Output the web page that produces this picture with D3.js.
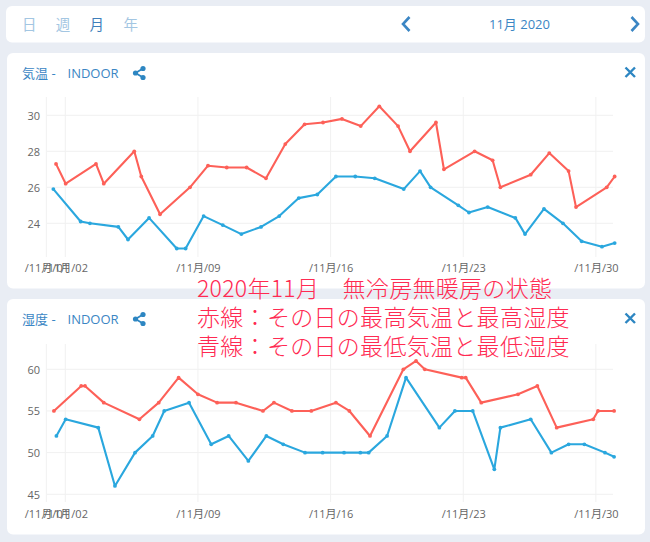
<!DOCTYPE html>
<html>
<head>
<meta charset="utf-8">
<script src="https://cdn.jsdelivr.net/npm/d3@7"></script>
<style>
body { margin: 0; background: #e9edf4; }
svg { display: block; }
</style>
</head>
<body>
<svg id="chart" width="650" height="542"></svg>
<script>
// time of each reading = day of November (with fraction of the day)
var tempHighDay = [1.51, 2.02, 3.62, 4.03, 5.64, 6.01, 7.00, 8.58, 9.53, 10.52,
	11.57, 12.59, 13.61, 14.63, 15.60, 16.60, 17.59, 18.57, 19.56, 20.19,
	21.56, 21.98, 23.60, 24.55, 24.96, 26.56, 27.54, 28.56, 28.95, 30.57, 30.99];
var tempHigh = [27.3, 26.2, 27.3, 26.2, 28.0, 26.6, 24.5, 26.0, 27.2, 27.1,
	27.1, 26.5, 28.4, 29.5, 29.6, 29.8, 29.4, 30.5, 29.4, 28.0,
	29.6, 27.0, 28.0, 27.5, 26.0, 26.7, 27.9, 26.9, 24.9, 26.0, 26.6];

var tempLowDay = [1.37, 2.81, 3.30, 4.80, 5.31, 6.42, 7.88, 8.35, 9.30, 10.31,
	11.29, 12.33, 13.29, 14.32, 15.30, 16.28, 17.30, 18.33, 19.86, 20.72,
	21.28, 22.74, 23.30, 24.29, 25.75, 26.26, 27.26, 28.26, 29.25, 30.32, 30.99];
var tempLow = [25.9, 24.1, 24.0, 23.8, 23.1, 24.3, 22.6, 22.6, 24.4, 23.9,
	23.4, 23.8, 24.4, 25.4, 25.6, 26.6, 26.6, 26.5, 25.9, 26.9,
	26.0, 25.0, 24.6, 24.9, 24.3, 23.4, 24.8, 24.0, 23.0, 22.7, 22.9];

var humHighDay = [1.40, 2.84, 3.04, 4.03, 5.91, 6.93, 7.98, 9.00, 10.01, 11.01,
	12.43, 13.01, 13.96, 14.98, 16.28, 16.99, 18.08, 19.84, 20.51, 20.97,
	22.92, 23.13, 23.95, 25.89, 26.91, 27.93, 29.86, 30.11, 30.96];
var humHigh = [55, 58, 58, 56, 54, 56, 59, 57, 56, 56,
	55, 56, 55, 55, 56, 55, 52, 60, 61, 60,
	59, 59, 56, 57, 58, 53, 54, 55, 55];

var humLowDay = [1.53, 2.02, 3.74, 4.62, 5.68, 6.61, 7.22, 8.53, 9.70, 10.62,
	11.66, 12.61, 13.50, 14.65, 15.58, 16.71, 17.57, 18.01, 18.98, 19.98,
	21.74, 22.56, 23.50, 24.64, 24.96, 26.56, 27.65, 28.56, 29.39, 30.48, 30.96];
var humLow = [52, 54, 53, 46, 50, 52, 55, 56, 51, 52,
	49, 52, 51, 50, 50, 50, 50, 50, 52, 59,
	53, 55, 55, 48, 53, 54, 50, 51, 51, 50, 49.5];

var tickDays = [1, 2, 9, 16, 23, 30];
var tempTicks = [24, 26, 28, 30];
var humTicks = [45, 50, 55, 60];
var periodLabels = ["日", "週", "月", "年"];
var noteLines = ["2020年11月　無冷房無暖房の状態", "赤線：その日の最高気温と最高湿度", "青線：その日の最低気温と最低湿度"];

var RED = "#fd6058";
var BLUE = "#2aa7de";
var UI_BLUE = "#3b86c4";
var FONT = "'Open Sans', 'Noto Sans CJK JP', sans-serif";

function toDate(day) {
	return new Date(new Date(2020, 10, 1).getTime() + (day - 1) * 864e5);
}

var svg = d3.select("#chart");

// cards
var cards = [
	{x: 6, y: 6, w: 639, h: 36.5},
	{x: 7, y: 53, w: 638, h: 235.5},
	{x: 7, y: 299, w: 638, h: 235.5}
];
svg.selectAll("rect.card")
	.data(cards)
	.enter()
	.append("rect")
	.attr("class", "card")
	.attr("x", d => d.x)
	.attr("y", d => d.y)
	.attr("width", d => d.w)
	.attr("height", d => d.h)
	.attr("rx", 6)
	.style("fill", "#fff");

// top toolbar
svg.selectAll("text.period")
	.data(periodLabels)
	.enter()
	.append("text")
	.attr("class", "period")
	.attr("x", (d, i) => 22 + i * 33.8)
	.attr("y", 29.5)
	.text(d => d)
	.style("font-family", FONT)
	.style("font-size", "14.5px")
	.style("fill", (d, i) => i == 2 ? "#3f7fbb" : "#a3c6e2");

svg.append("path")
	.attr("d", "M409.5,17 L403,24 L409.5,31")
	.style("fill", "none").style("stroke", UI_BLUE).style("stroke-width", 2.6);
svg.append("path")
	.attr("d", "M631.5,17 L638,24 L631.5,31")
	.style("fill", "none").style("stroke", UI_BLUE).style("stroke-width", 2.6);
svg.append("text")
	.attr("x", 519.5)
	.attr("y", 28.5)
	.attr("text-anchor", "middle")
	.text("11月 2020")
	.style("font-family", FONT)
	.style("font-size", "13px")
	.style("fill", UI_BLUE);

var x = d3.scaleTime()
	.domain([new Date(2020, 10, 1), new Date(2020, 11, 1)])
	.range([46.35, 614.85]);
var fmt = d3.timeFormat("/%-m月/%d");

function drawPanel(p) {
	var g = svg.append("g");
	var y = d3.scaleLinear().domain(p.domain).range(p.range);

	// header
	var title = g.append("text")
		.attr("x", 22)
		.attr("y", p.titleY)
		.style("font-family", FONT)
		.style("font-size", "13px")
		.style("fill", UI_BLUE);
	title.append("tspan").text(p.title + " -");
	title.append("tspan").attr("x", 67.5).text("INDOOR");

	var share = g.append("g").attr("transform", "translate(139," + (p.titleY - 4.5) + ")");
	share.append("path")
		.attr("d", "M-3.5,0 L4,-4.5 M-3.5,0 L4,4.5")
		.style("stroke", "#2d86c2").style("stroke-width", 1.8);
	share.selectAll("circle")
		.data([[-3.5, 0], [4, -4.5], [4, 4.5]])
		.enter()
		.append("circle")
		.attr("cx", d => d[0])
		.attr("cy", d => d[1])
		.attr("r", 2.6)
		.style("fill", "#2d86c2");

	g.append("path")
		.attr("d", "M625.5," + (p.titleY - 10) + " l9.5,9.5 M635," + (p.titleY - 10) + " l-9.5,9.5")
		.style("stroke", "#2d86c2").style("stroke-width", 2.4);

	// grid
	g.selectAll("line.hgrid")
		.data(p.ticks)
		.enter()
		.append("line")
		.attr("x1", 47)
		.attr("x2", 613)
		.attr("y1", d => y(d))
		.attr("y2", d => y(d))
		.style("stroke", "#f1f1f1");
	g.selectAll("line.vgrid")
		.data(tickDays)
		.enter()
		.append("line")
		.attr("x1", d => x(toDate(d)))
		.attr("x2", d => x(toDate(d)))
		.attr("y1", p.plotTop)
		.attr("y2", p.plotBottom)
		.style("stroke", "#f1f1f1");

	// axes
	var yAxis = g.append("g")
		.attr("transform", "translate(40,0)")
		.call(d3.axisLeft(y).tickValues(p.ticks).tickFormat(d3.format("d")).tickSize(0).tickPadding(0));
	var xAxis = g.append("g")
		.attr("transform", "translate(0," + p.labelY + ")")
		.call(d3.axisBottom(x).tickValues(tickDays.map(toDate)).tickFormat(fmt).tickSize(0).tickPadding(0));
	[xAxis, yAxis].forEach(function (a) {
		a.select(".domain").remove();
		a.selectAll("text")
			.style("font-family", FONT)
			.style("font-size", "11px")
			.style("fill", "#666");
	});
	yAxis.selectAll("text").attr("dy", "0.35em");

	// series
	p.series.forEach(function (s) {
		var pts = s.days.map((d, i) => ({t: toDate(d), v: s.values[i]}));
		var line = d3.line().x(d => x(d.t)).y(d => y(d.v));
		g.append("path")
			.datum(pts)
			.attr("d", line)
			.style("fill", "none")
			.style("stroke", s.color)
			.style("stroke-width", 2.1)
			.style("stroke-linejoin", "round");
		g.selectAll(null)
			.data(pts)
			.enter()
			.append("circle")
			.attr("cx", d => x(d.t))
			.attr("cy", d => y(d.v))
			.attr("r", 1.9)
			.style("fill", s.color);
	});
}

drawPanel({
	title: "気温",
	titleY: 77.5,
	domain: [24, 30], range: [223.3, 115.3],
	ticks: tempTicks,
	plotTop: 97, plotBottom: 257, labelY: 264,
	series: [
		{days: tempHighDay, values: tempHigh, color: RED},
		{days: tempLowDay, values: tempLow, color: BLUE}
	]
});

drawPanel({
	title: "湿度",
	titleY: 323.5,
	domain: [45, 60], range: [494.3, 369.3],
	ticks: humTicks,
	plotTop: 344, plotBottom: 502, labelY: 510,
	series: [
		{days: humHighDay, values: humHigh, color: RED},
		{days: humLowDay, values: humLow, color: BLUE}
	]
});

// handwritten note on top
svg.selectAll("text.note")
	.data(noteLines)
	.enter()
	.append("text")
	.attr("class", "note")
	.attr("x", 197)
	.attr("y", (d, i) => 297 + i * 29)
	.text(d => d)
	.style("font-family", "'Noto Sans CJK JP', sans-serif")
	.style("font-weight", 300)
	.style("font-size", "23px")
	.style("letter-spacing", "0.3px")
	.style("fill", "#ff2a52");
</script>
</body>
</html>
